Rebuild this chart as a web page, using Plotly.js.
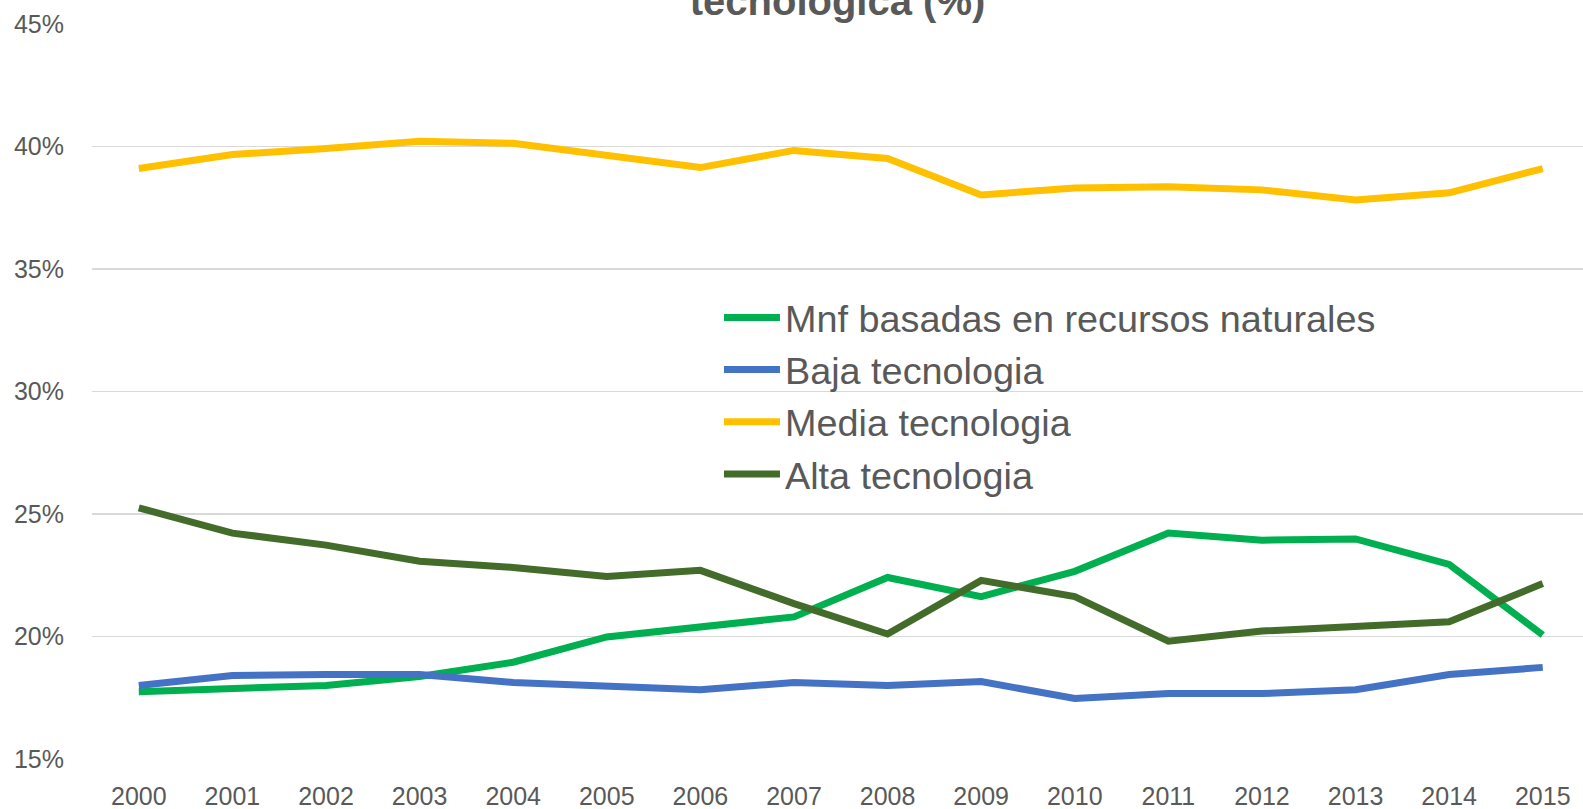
<!DOCTYPE html>
<html>
<head>
<meta charset="utf-8">
<script src="https://cdn.plot.ly/plotly-3.0.1.min.js"></script>
<style>html,body{margin:0;padding:0;background:#fff;}#chart{width:1583px;height:809px;}</style>
</head>
<body>
<div id="chart"></div>
<script>
const years = ["2000","2001","2002","2003","2004","2005","2006","2007","2008","2009","2010","2011","2012","2013","2014","2015"];
const mnfRecursos = [17.75,17.88,18.0,18.37,18.95,19.98,20.39,20.80,22.41,21.63,22.66,24.22,23.93,23.98,22.94,20.06];
const bajaTec = [18.0,18.41,18.45,18.45,18.12,18.0,17.83,18.12,18.0,18.16,17.47,17.67,17.67,17.83,18.45,18.74];
const mediaTec = [39.10,39.67,39.92,40.21,40.13,39.67,39.14,39.84,39.51,38.02,38.31,38.36,38.23,37.82,38.11,39.10];
const altaTec = [25.25,24.22,23.73,23.07,22.82,22.45,22.70,21.34,20.10,22.29,21.63,19.81,20.22,20.43,20.60,22.16];
const seriesNames = ["Mnf basadas en recursos naturales","Baja tecnologia","Media tecnologia","Alta tecnologia"];
const seriesColors = ["#00B050","#4472C4","#FFC000","#436B2A"];
const seriesData = [mnfRecursos, bajaTec, mediaTec, altaTec];
const yTicks = [15,20,25,30,35,40,45];
const yTickLabels = ["15%","20%","25%","30%","35%","40%","45%"];

const traces = seriesData.map((vals, i) => ({
  type: 'scatter',
  mode: 'lines',
  x: years,
  y: vals,
  name: seriesNames[i],
  line: {color: seriesColors[i], width: 7},
  hoverinfo: 'x+y+name'
}));

const layout = {
  width: 1583,
  height: 809,
  margin: {l: 92, r: 0, t: 24, b: 50},
  paper_bgcolor: '#ffffff',
  plot_bgcolor: '#ffffff',
  font: {family: 'Liberation Sans, Arial, sans-serif', color: '#595959', size: 25},
  title: {
    text: '<b>tecnológica (%)</b>',
    font: {family: 'Liberation Sans, Arial, sans-serif', size: 40, color: '#595959'},
    x: 0.5, xref: 'paper', xanchor: 'center',
    y: 0.982, yref: 'container', yanchor: 'bottom'
  },
  xaxis: {
    type: 'category',
    range: [-0.5, 15.43],
    showgrid: false,
    zeroline: false,
    showline: false,
    ticks: 'outside', ticklen: 15, tickcolor: 'rgba(0,0,0,0)',
    tickfont: {size: 25, color: '#595959'},
    fixedrange: true
  },
  yaxis: {
    range: [15, 45],
    tickmode: 'array',
    tickvals: yTicks,
    ticktext: yTickLabels,
    showgrid: true,
    gridcolor: '#D9D9D9',
    gridwidth: 1.5,
    zeroline: false,
    showline: false,
    ticks: 'outside', ticklen: 22, tickcolor: 'rgba(0,0,0,0)',
    tickfont: {size: 25, color: '#595959'},
    fixedrange: true
  },
  showlegend: true,
  legend: {
    x: 0.4205, xref: 'paper', xanchor: 'left',
    y: 0.643, yref: 'paper', yanchor: 'top',
    bgcolor: 'rgba(255,255,255,0)',
    borderwidth: 0,
    font: {size: 37.8, color: '#595959'},
    itemwidth: 56,
    tracegroupgap: 0
  }
};

Plotly.newPlot('chart', traces, layout, {displayModeBar: false, staticPlot: true});
</script>
</body>
</html>
